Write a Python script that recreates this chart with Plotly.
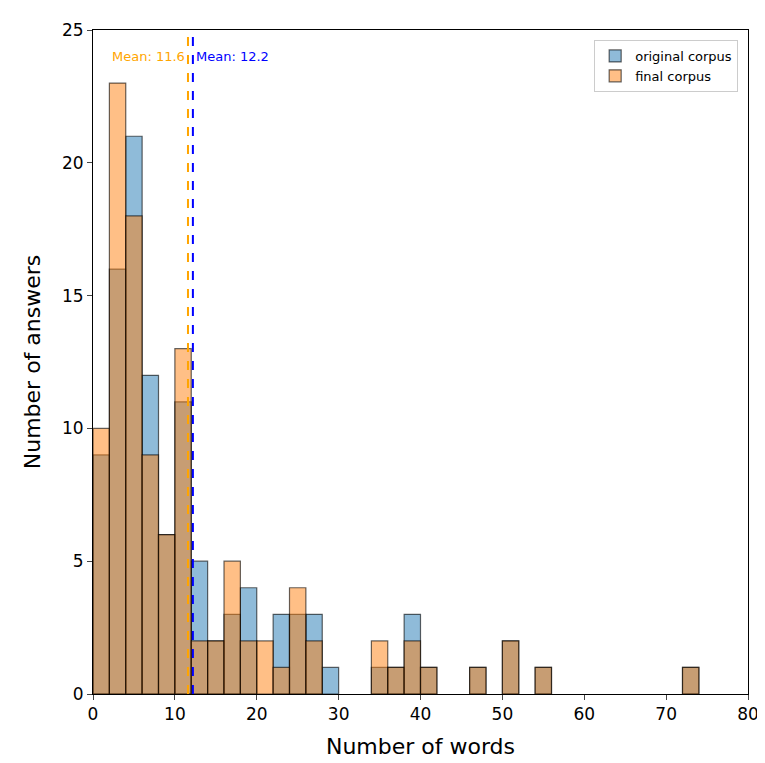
import plotly.graph_objects as go

bin_left = [0,2,4,6,8,10,12,14,16,18,20,22,24,26,28,30,32,34,36,38,40,42,44,46,48,50,52,54,56,58,60,62,64,66,68,70,72]
original = [9,16,21,12,6,11,5,2,3,4,0,3,3,3,1,0,0,1,1,3,1,0,0,1,0,2,0,1,0,0,0,0,0,0,0,0,1]
final    = [10,23,18,9,6,13,2,2,5,2,2,1,4,2,0,0,0,2,1,2,1,0,0,1,0,2,0,1,0,0,0,0,0,0,0,0,1]
mean_orig, mean_final = 12.2, 11.6
bw = 2

fig = go.Figure()
for name, vals, col in [("original corpus", original, "rgba(31,119,180,0.5)"),
                        ("final corpus", final, "rgba(255,127,14,0.5)")]:
    xs = [b + bw/2 for b, v in zip(bin_left, vals) if v > 0]
    ys = [v for v in vals if v > 0]
    fig.add_trace(go.Bar(x=xs, y=ys, width=bw, name=name, marker=dict(color=col, line=dict(color="rgba(0,0,0,0.6)", width=1.2))))

fig.add_shape(type="line", x0=mean_final, x1=mean_final, y0=0, y1=1, yref="paper", line=dict(color="orange", dash="dash", width=2))
fig.add_shape(type="line", x0=mean_orig, x1=mean_orig, y0=0, y1=1, yref="paper", line=dict(color="blue", dash="dash", width=2))
fig.add_annotation(x=mean_final, y=24, text=f"Mean: {mean_final}", showarrow=False, xanchor="right", font=dict(color="orange", size=13), xshift=-1)
fig.add_annotation(x=mean_orig, y=24, text=f"Mean: {mean_orig}", showarrow=False, xanchor="left", font=dict(color="blue", size=13), xshift=1)

fig.update_layout(
    barmode="overlay", width=765, height=763, plot_bgcolor="white", paper_bgcolor="white",
    margin=dict(l=85, r=25, t=20, b=77),
    font=dict(family="DejaVu Sans", color="black"),
    legend=dict(x=0.985, y=0.985, xanchor="right", yanchor="top", bordercolor="#cccccc", borderwidth=1, font=dict(size=13)),
    xaxis=dict(range=[0,80], dtick=10, title=dict(text="Number of words", font=dict(size=22)), tickfont=dict(size=17),
               showline=True, linecolor="black", mirror=True, ticks="outside", showgrid=False, zeroline=False),
    yaxis=dict(range=[0,25], dtick=5, title=dict(text="Number of answers", font=dict(size=22)), tickfont=dict(size=17),
               showline=True, linecolor="black", mirror=True, ticks="outside", showgrid=False, zeroline=False),
)
fig.write_html("out.html")
